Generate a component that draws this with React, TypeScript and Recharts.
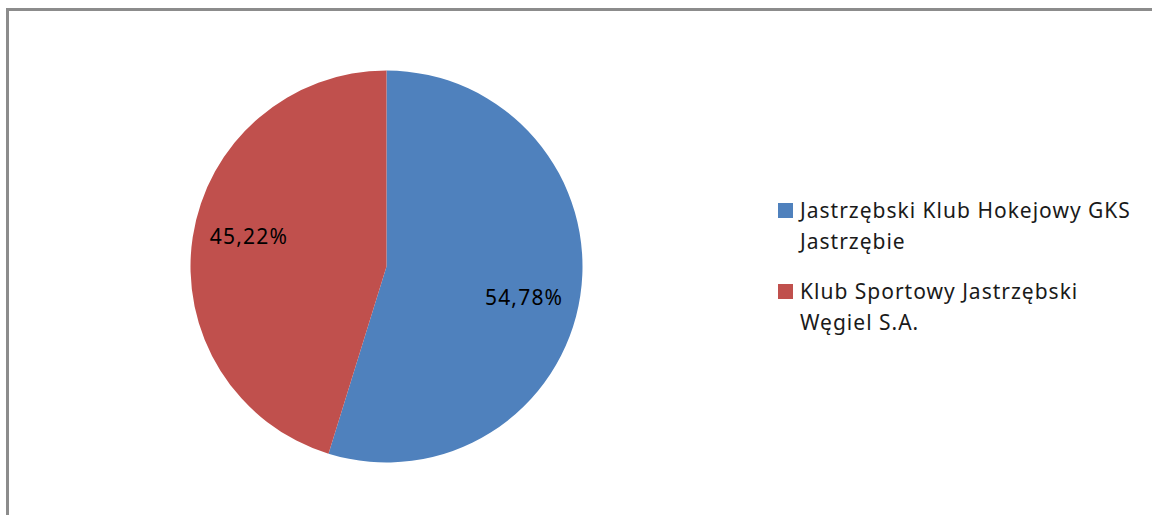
import React from "react";
import { PieChart, Pie, Cell, Legend } from "recharts";

const clubs = [
  "Jastrzębski Klub Hokejowy GKS Jastrzębie",
  "Klub Sportowy Jastrzębski Węgiel S.A.",
];
const shares = [54.78, 45.22];
const colors = ["#4F81BD", "#C0504D"];
const legendLines = [
  ["Jastrzębski Klub Hokejowy GKS", "Jastrzębie"],
  ["Klub Sportowy Jastrzębski", "Węgiel S.A."],
];

const data = clubs.map((name, i) => ({ name, value: shares[i] }));

const FONT = "'Noto Sans', 'Open Sans', sans-serif";
const RAD = Math.PI / 180;

const renderLabel = (props: any) => {
  const { cx, cy, midAngle, outerRadius, value } = props;
  const r = outerRadius * 0.71;
  const dx = Math.cos(-midAngle * RAD);
  const dy = Math.sin(-midAngle * RAD);
  const x = cx + r * dx;
  // excel nudges the label a bit further from the horizontal
  const y = cy + r * dy + Math.sign(dy) * 10;
  return (
    <text
      x={x}
      y={y}
      textAnchor="middle"
      dominantBaseline="central"
      fill="#000"
      fontSize={21}
      letterSpacing={1.2}
      fontFamily={FONT}
    >
      {value.toFixed(2).replace(".", ",")}%
    </text>
  );
};

const renderLegend = () => (
  <div
    style={{
      fontFamily: FONT,
      fontSize: 21,
      letterSpacing: 1,
      color: "#1a1a1a",
      lineHeight: "31px",
    }}
  >
    {legendLines.map((lines, i) => (
      <div key={i} style={{ display: "flex", marginBottom: 19 }}>
        <div
          style={{
            width: 15,
            height: 15,
            background: colors[i],
            marginTop: 8,
            marginRight: 7,
            flexShrink: 0,
          }}
        />
        <div>
          {lines.map((l, j) => (
            <div key={j}>{l}</div>
          ))}
        </div>
      </div>
    ))}
  </div>
);

export default function App() {
  return (
    <div
      style={{
        position: "absolute",
        left: 0,
        top: 0,
        width: 1152,
        height: 515,
        overflow: "hidden",
        background: "#fff",
      }}
    >
      <div
        style={{
          position: "absolute",
          left: 6,
          top: 8,
          width: 1170,
          height: 530,
          borderLeft: "3px solid #8c8c8c",
          borderTop: "3px solid #8c8c8c",
        }}
      />
      <PieChart
        width={1152}
        height={515}
        margin={{ top: 0, right: 0, bottom: 0, left: 0 }}
        style={{ position: "absolute", left: 0, top: 0 }}
      >
        <Pie
          data={data}
          dataKey="value"
          nameKey="name"
          cx={386.5}
          cy={266.5}
          outerRadius={196}
          startAngle={90}
          endAngle={-270}
          stroke="none"
          labelLine={false}
          label={renderLabel}
          isAnimationActive={false}
        >
          {data.map((_, i) => (
            <Cell key={i} fill={colors[i]} />
          ))}
        </Pie>
        <Legend
          content={renderLegend}
          wrapperStyle={{ position: "absolute", left: 778, top: 195, width: 374 }}
        />
      </PieChart>
    </div>
  );
}
